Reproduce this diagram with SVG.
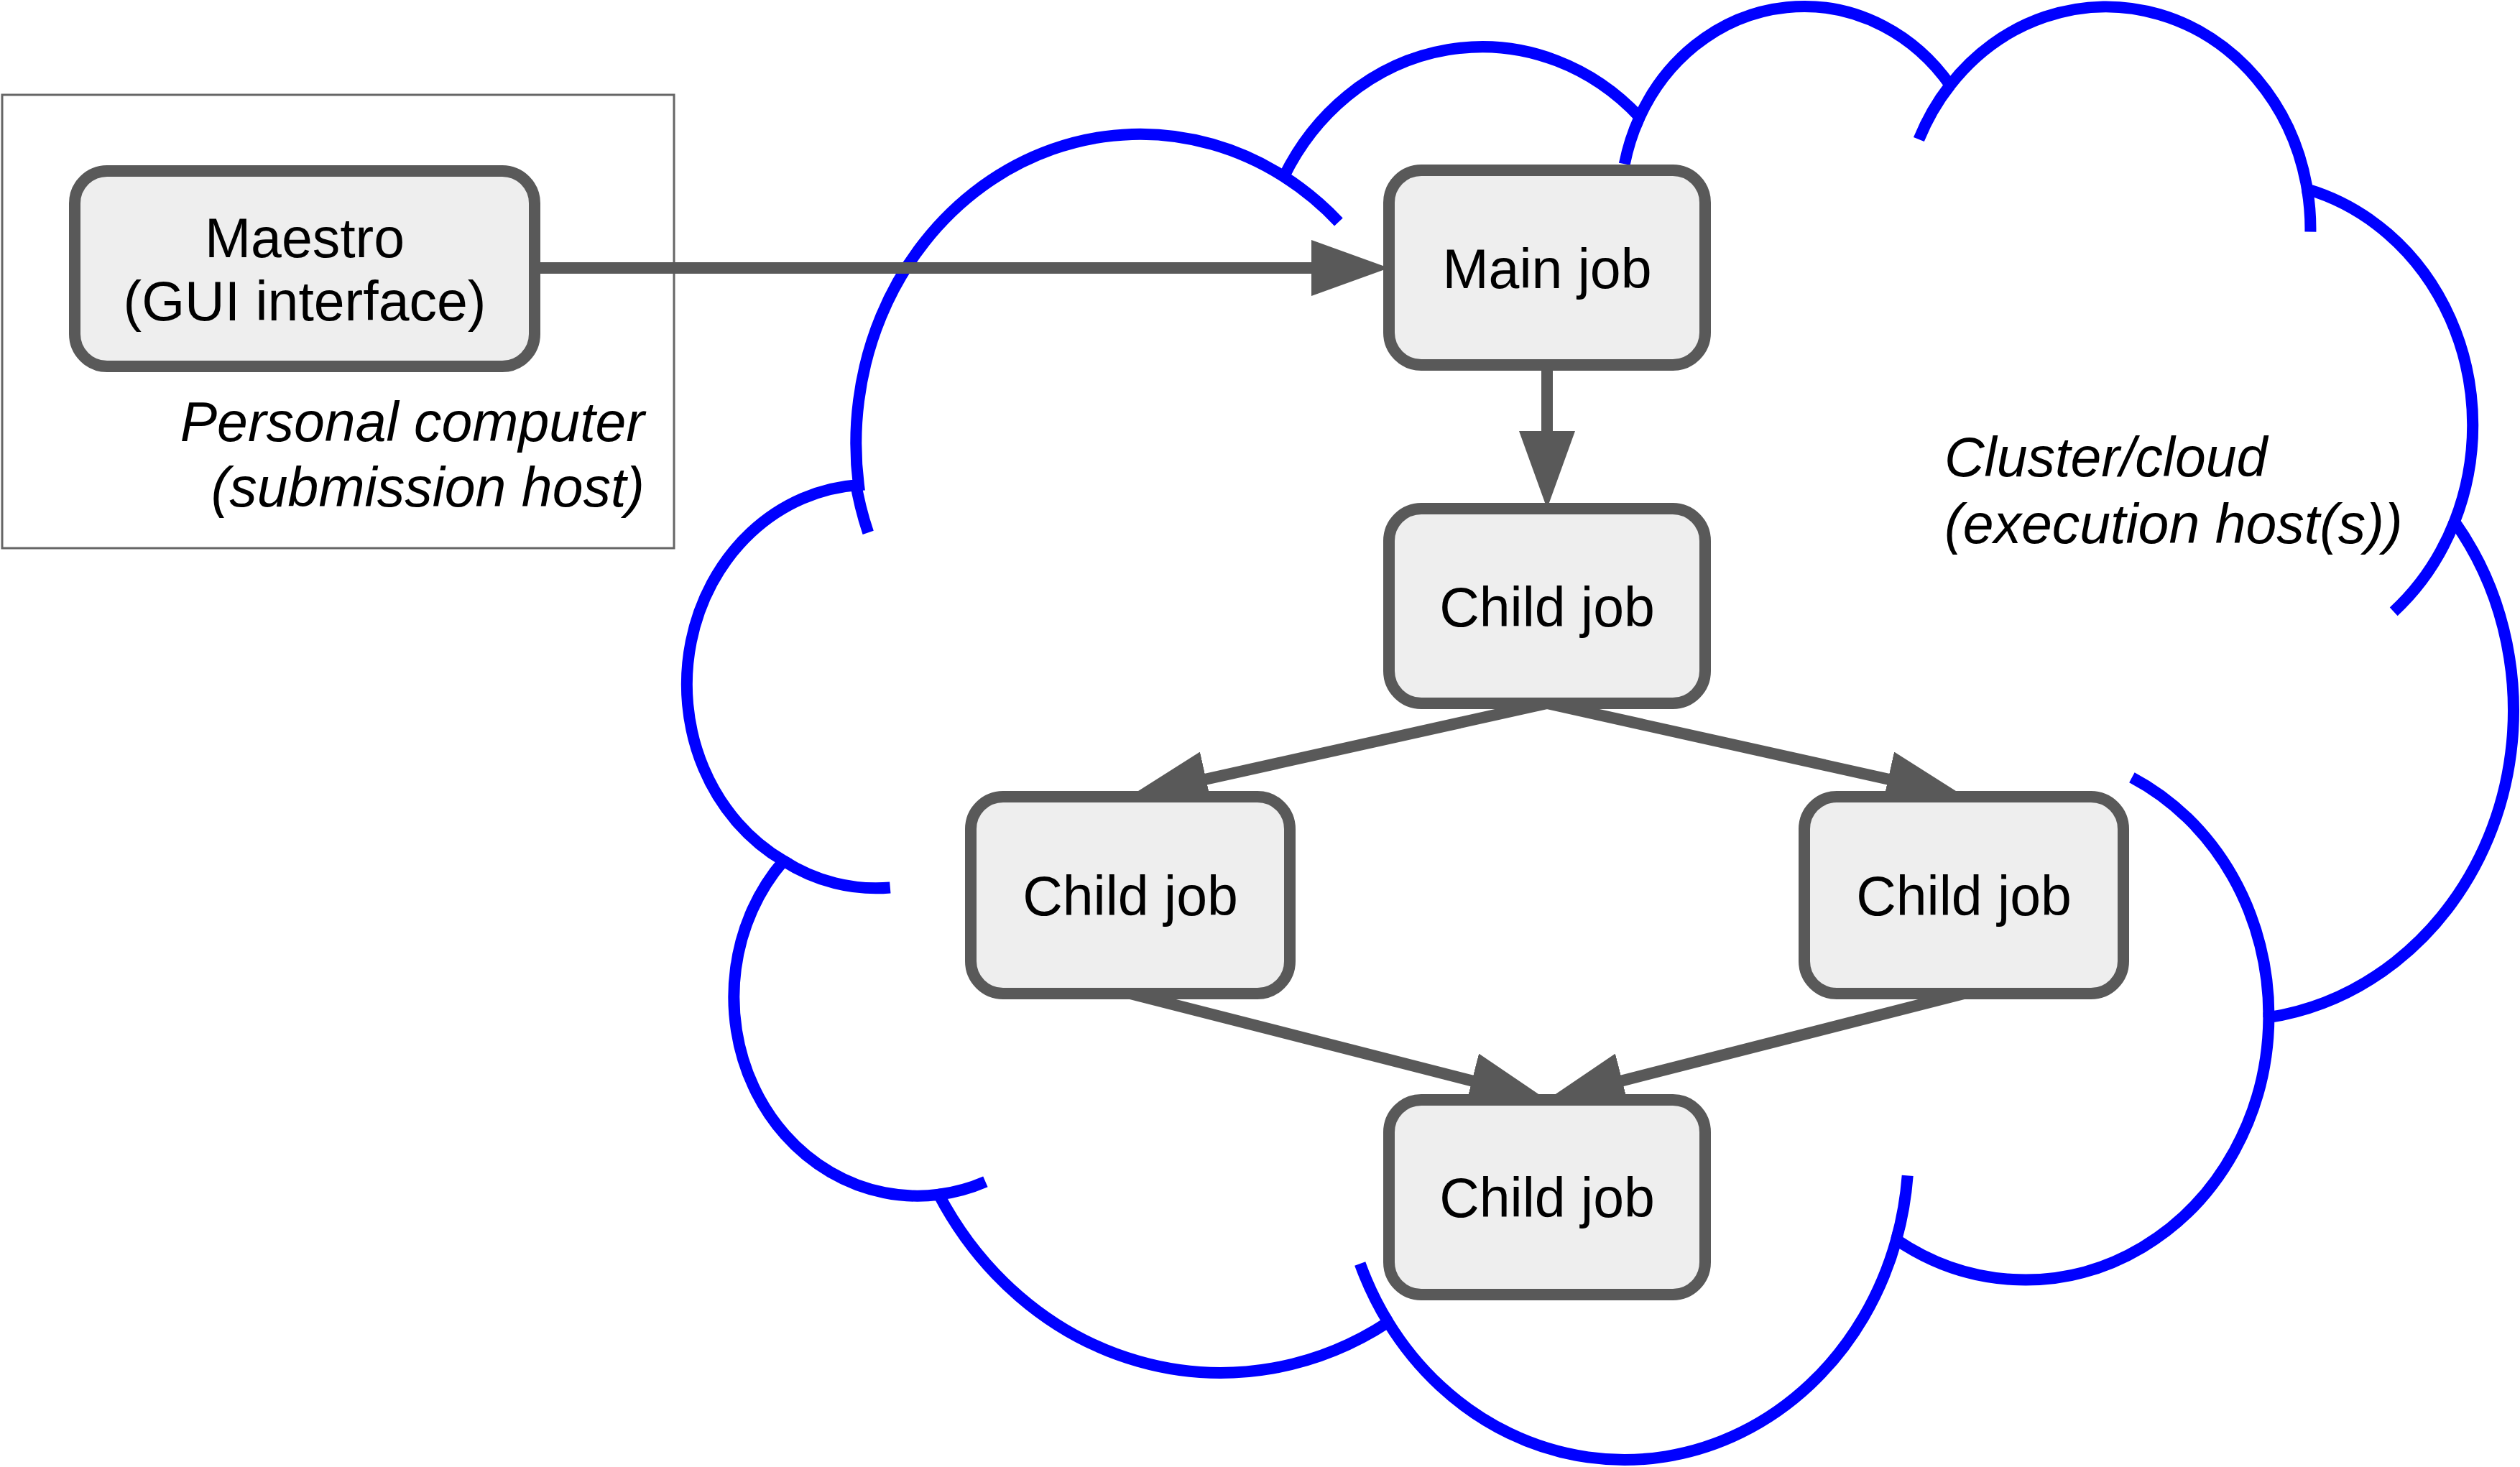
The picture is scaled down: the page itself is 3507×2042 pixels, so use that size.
<svg xmlns="http://www.w3.org/2000/svg" width="3507" height="2042" viewBox="0 0 3507 2042">
<style>
.node rect{fill:#eeeeee;stroke:#595959;stroke-width:16}
.lbl{font-family:"Liberation Sans",Arial,sans-serif;font-size:77px;fill:#000;text-anchor:middle}
.it{font-family:"Liberation Sans",Arial,sans-serif;font-size:77px;font-style:italic;fill:#000}
.conn line{stroke:#595959;stroke-width:16;fill:none}
.cloud path{fill:none;stroke:#0000ff;stroke-width:16}
</style>
<defs>
<marker id="ah" markerUnits="userSpaceOnUse" markerWidth="108" markerHeight="78" viewBox="0 0 108 78" refX="48" refY="39" orient="auto"><path d="M0,0 L108,39 L0,78 Z" fill="#595959"/></marker>
</defs>
<rect width="3507" height="2042" fill="#ffffff"/>
<g id="personal-computer">
<rect x="3" y="132" width="935" height="631" fill="none" stroke="#666666" stroke-width="3"/>
<text class="it" text-anchor="end" x="897" y="614">Personal computer</text>
<text class="it" text-anchor="end" x="897" y="705">(submission host)</text>
</g>
<g id="cloud" class="cloud">
<path fill="#ffffff" d="M1194.9 675.0 A395.54 430.17 0 0 1 1786.8 245.8 A312.37 340.16 0 0 1 2281.8 163.0 A255.67 278.28 0 0 1 2713.9 118.5 A284.49 308.71 0 0 1 3210.9 263.4 A312.37 340.44 0 0 1 3415.9 726.1 A396.83 431.58 0 0 1 3157.4 1416.2 A338.84 368.25 0 0 1 2639.1 1725.6 A395.48 431.35 0 0 1 1931.8 1840.4 A452.18 493.51 0 0 1 1306.5 1662.8 A255.38 277.02 0 0 1 1090.4 1198.2 A254.50 278.28 0 0 1 1194.9 675.0 Z"/>
<path d="M1238.8 1235.5 A254.50 278.28 0 0 1 1090.4 1198.2 M1371.4 1644.9 A255.38 277.02 0 0 1 1306.5 1662.8 M1931.8 1840.4 A395.48 431.35 0 0 1 1892.7 1759.0 M2654.7 1636.3 A395.48 431.35 0 0 1 2639.1 1725.6 M2966.9 1082.2 A338.84 368.25 0 0 1 3157.4 1416.2 M3415.9 726.1 A312.37 340.44 0 0 1 3331.2 851.3 M3210.9 263.4 A284.49 308.71 0 0 1 3215.4 322.6 M2670.4 194.1 A284.49 308.71 0 0 1 2713.9 118.5 M2260.8 228.2 A255.67 278.28 0 0 1 2281.8 163.0 M1786.8 245.8 A395.54 430.17 0 0 1 1862.9 308.9 M1208.2 741.4 A395.54 430.17 0 0 1 1190.1 667.7"/>
<text class="it" x="2706" y="663">Cluster/cloud</text>
<text class="it" x="2706" y="756">(execution host(s))</text>
</g>
<g id="connectors" class="conn">
<line x1="744" y1="373" x2="1873" y2="373" marker-end="url(#ah)"/>
<line x1="2153" y1="508" x2="2153" y2="648" marker-end="url(#ah)"/>
<line x1="2153" y1="979" x2="1631.6" y2="1095.0" marker-end="url(#ah)"/>
<line x1="2153" y1="979" x2="2674.4" y2="1095.0" marker-end="url(#ah)"/>
<line x1="1573" y1="1383" x2="2094.9" y2="1516.2" marker-end="url(#ah)"/>
<line x1="2733" y1="1383" x2="2211.1" y2="1516.2" marker-end="url(#ah)"/>
</g>
<g id="maestro" class="node">
<rect x="104" y="238" width="640" height="272" rx="45" ry="45"/>
<text class="lbl" x="424" y="358">Maestro</text>
<text class="lbl" x="424" y="446">(GUI interface)</text>
</g>
<g id="main-job" class="node">
<rect x="1933" y="237" width="440" height="271" rx="45" ry="45"/>
<text class="lbl" x="2153" y="401">Main job</text>
</g>
<g id="child-job-1" class="node">
<rect x="1933" y="708" width="440" height="271" rx="45" ry="45"/>
<text class="lbl" x="2153" y="872">Child job</text>
</g>
<g id="child-job-left" class="node">
<rect x="1351" y="1109" width="444" height="274" rx="45" ry="45"/>
<text class="lbl" x="1573" y="1274">Child job</text>
</g>
<g id="child-job-right" class="node">
<rect x="2511" y="1109" width="444" height="274" rx="45" ry="45"/>
<text class="lbl" x="2733" y="1274">Child job</text>
</g>
<g id="child-job-bottom" class="node">
<rect x="1933" y="1531" width="440" height="271" rx="45" ry="45"/>
<text class="lbl" x="2153" y="1694">Child job</text>
</g>
</svg>
